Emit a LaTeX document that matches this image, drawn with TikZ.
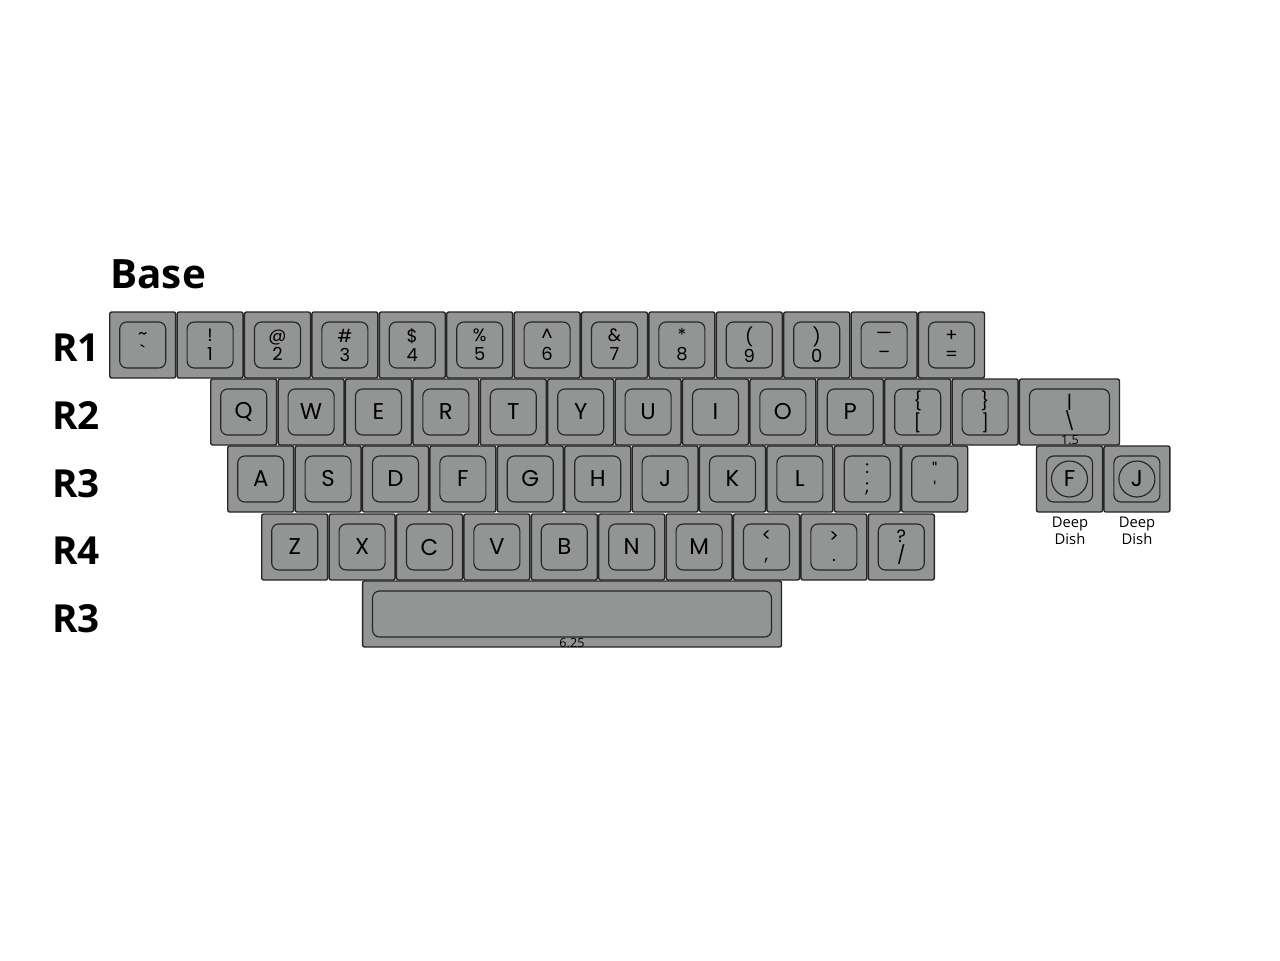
\documentclass[tikz,border=0pt]{standalone}
\usepackage{fontspec}
\setmainfont{Poppins}
\newfontfamily\legendfont{Poppins}
\newfontfamily\rowfont{Open Sans}

\definecolor{keygray}{RGB}{147,149,148}
\definecolor{keyline}{RGB}{38,38,38}

\newcommand\capfont{\legendfont\fontsize{10.2}{10.8}\selectfont}
\newcommand\bigcapfont{\legendfont\fontsize{13}{13}\selectfont}

\tikzset{
  keycap/.style={rectangle, draw=keyline, fill=keygray, line width=0.8pt,
    rounded corners=0.4mm, minimum width=13.2mm, minimum height=13.2mm,
    inner sep=0pt, align=center, font=\capfont,
    path picture={\draw[keyline, line width=0.65pt, rounded corners=1.4mm]
      ([shift={(2mm,2mm)}]path picture bounding box.south west) rectangle
      ([shift={(-2mm,-2mm)}]path picture bounding box.north east);}},
  letter/.style={keycap, font=\bigcapfont},
  dish/.style={letter,
    path picture={\draw[keyline, line width=0.65pt, rounded corners=1.4mm]
      ([shift={(2mm,2mm)}]path picture bounding box.south west) rectangle
      ([shift={(-2mm,-2mm)}]path picture bounding box.north east);
      \draw[keyline, line width=0.65pt] (path picture bounding box.center) circle (3.6mm);}},
  rowname/.style={font=\rowfont\bfseries\fontsize{22}{22}\selectfont, inner sep=0pt},
  sizenote/.style={font=\rowfont\fontsize{7.2}{7.2}\selectfont, inner sep=0pt},
  dishnote/.style={font=\rowfont\fontsize{8.4}{10}\selectfont, align=center, inner sep=0pt}
}

\begin{document}
\begin{tikzpicture}[x=0.02cm, y=-0.02cm]

      \useasboundingbox[fill=white] (0,0) rectangle (1280,960);

      % titles
      \node[rowname, anchor=base west, font=\rowfont\bfseries\fontsize{23}{23}\selectfont] (base) at (110,288) {Base};
      \node[rowname, anchor=base east] (r1) at (100,361) {R1};
      \node[rowname, anchor=base east] (r2) at (100,429) {R2};
      \node[rowname, anchor=base east] (r3) at (100,497) {R3};
      \node[rowname, anchor=base east] (r4) at (100,564) {R4};
      \node[rowname, anchor=base east] (r5) at (100,632) {R3};

      % number row
      \node[keycap] (grave) at (142.7,345) {\textasciitilde\\\textasciigrave};
      \node[keycap] (one)   at (210.1,345) {!\\1};
      \node[keycap] (two)   at (277.5,345) {@\\2};
      \node[keycap] (three) at (344.9,345) {\#\\3};
      \node[keycap] (four)  at (412.3,345) {\$\\4};
      \node[keycap] (five)  at (479.7,345) {\%\\5};
      \node[keycap] (six)   at (547.1,345) {\textasciicircum\\6};
      \node[keycap] (seven) at (614.5,345) {\&\\7};
      \node[keycap] (eight) at (681.9,345) {*\\8};
      \node[keycap] (nine)  at (749.3,345) {(\\9};
      \node[keycap] (zero)  at (816.7,345) {)\\0};
      \node[keycap] (minus) at (884.1,345) {—\\–};
      \node[keycap] (equal) at (951.5,345) {+\\=};

      % top row
      \node[letter] (q) at (243.7,412) {Q};
      \node[letter] (w) at (311.1,412) {W};
      \node[letter] (e) at (378.5,412) {E};
      \node[letter] (r) at (445.9,412) {R};
      \node[letter] (t) at (513.3,412) {T};
      \node[letter] (y) at (580.7,412) {Y};
      \node[letter] (u) at (648.1,412) {U};
      \node[letter] (i) at (715.5,412) {I};
      \node[letter] (o) at (782.9,412) {O};
      \node[letter] (p) at (850.3,412) {P};
      \node[keycap] (lbrack) at (917.7,412) {\{\\{[}};
      \node[keycap] (rbrack) at (985.1,412) {\}\\{]}};
      \node[keycap, minimum width=20mm] (bslash) at (1069.5,412) {\textbar\\\textbackslash};
      \node[sizenote] (bslashsize) at (1070,440) {1.5};

      % home row
      \node[letter] (a) at (260.7,479) {A};
      \node[letter] (s) at (328.1,479) {S};
      \node[letter] (d) at (395.5,479) {D};
      \node[letter] (f) at (462.9,479) {F};
      \node[letter] (g) at (530.3,479) {G};
      \node[letter] (h) at (597.7,479) {H};
      \node[letter] (j) at (665.1,479) {J};
      \node[letter] (k) at (732.5,479) {K};
      \node[letter] (l) at (799.9,479) {L};
      \node[keycap] (semi)  at (867.3,479) {:\\;};
      \node[keycap] (quote) at (934.7,479) {"\\'};
      \node[dish] (fdish) at (1069.5,479) {F};
      \node[dish] (jdish) at (1136.9,479) {J};
      \node[dishnote] (fnote) at (1070,531) {Deep\\Dish};
      \node[dishnote] (jnote) at (1137,531) {Deep\\Dish};

      % bottom row
      \node[letter] (z) at (294.7,547) {Z};
      \node[letter] (x) at (362.1,547) {X};
      \node[letter] (c) at (429.5,547) {C};
      \node[letter] (v) at (496.9,547) {V};
      \node[letter] (b) at (564.3,547) {B};
      \node[letter] (n) at (631.7,547) {N};
      \node[letter] (m) at (699.1,547) {M};
      \node[keycap] (comma)  at (766.5,547) {<\\,};
      \node[keycap] (period) at (833.9,547) {>\\.};
      \node[keycap] (slash)  at (901.3,547) {?\\/};

      % spacebar
      \node[keycap, minimum width=83.8mm] (space) at (572,614) {};
      \node[sizenote] (spacesize) at (572,643) {6.25};

    \end{tikzpicture}
\end{document}
